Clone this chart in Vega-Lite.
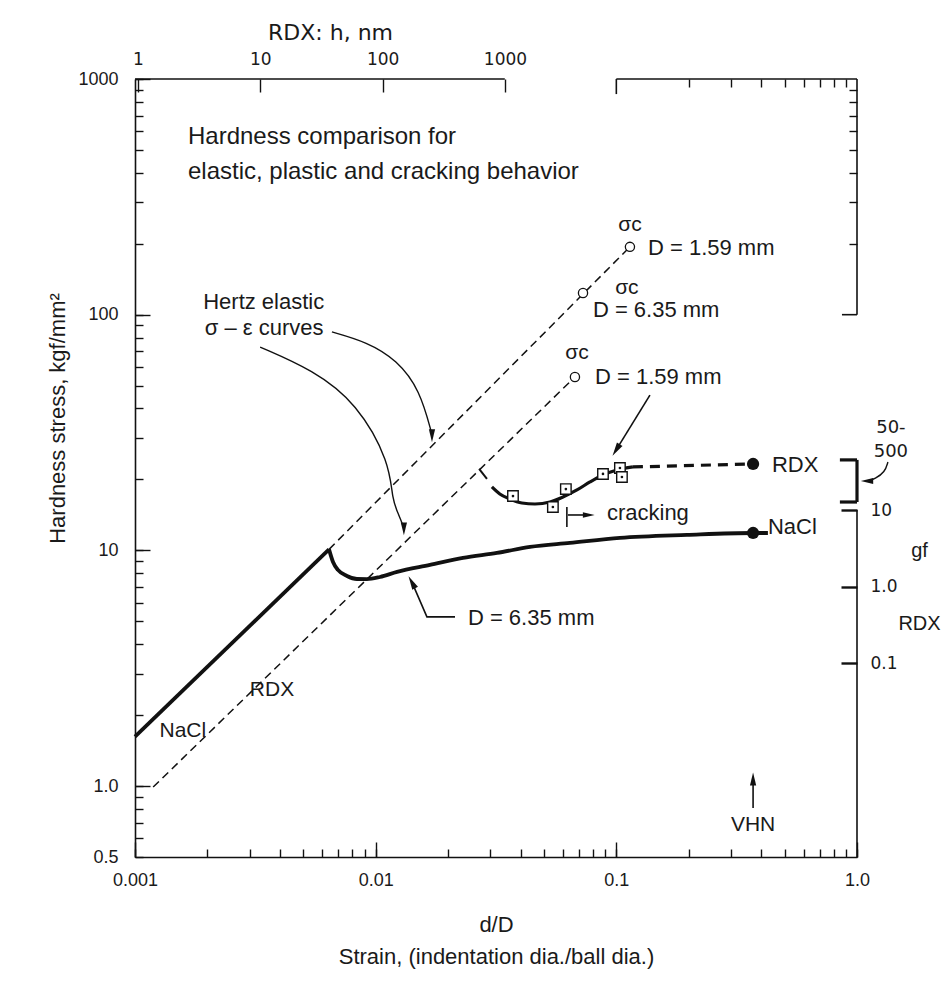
{
  "$schema": "https://vega.github.io/schema/vega-lite/v6.json",
  "width": 722,
  "height": 778,
  "autosize": {"type": "none"},
  "padding": {"left": 135, "top": 79, "right": 86, "bottom": 125},
  "background": "white",
  "config": {
    "view": {"stroke": null},
    "axis": {"grid": false, "domainColor": "#111", "tickColor": "#111", "domainWidth": 1.6, "tickWidth": 1.4, "labelColor": "#1a1a1a", "titleColor": "#1a1a1a", "labelFont": "Liberation Sans", "titleFont": "Liberation Sans", "titleFontWeight": "normal", "labelOverlap": false, "labelFlush": false}
  },
  "datasets": {
    "frame": [
      {"x": 0.001, "x2": 0.0344, "y": 1000, "y2": 1000},
      {"x": 0.1, "x2": 1, "y": 1000, "y2": 1000},
      {"x": 1, "x2": 1, "y": 1000, "y2": 100},
      {"x": 1, "x2": 1, "y": 14.84, "y2": 0.5},
      {"x": 0.1, "x2": 0.1, "y": 1000, "y2": 863},
      {"x": 0.866, "x2": 1, "y": 100, "y2": 100}
    ],
    "bracket": [
      {"x": 1, "x2": 1, "y": 24.2, "y2": 16.04},
      {"x": 0.849, "x2": 1, "y": 24.2, "y2": 24.2},
      {"x": 0.849, "x2": 1, "y": 16.04, "y2": 16.04}
    ],
    "hertz_up": [{"x": 0.0064, "y": 10.1}, {"x": 0.1139, "y": 194}],
    "hertz_lo": [{"x": 0.00119, "y": 0.99}, {"x": 0.0673, "y": 54.4}],
    "nacl_el": [{"x": 0.001, "y": 1.62}, {"x": 0.0064, "y": 10.1}],
    "nacl_cv": [
      {"x": 0.0064, "y": 10.1}, {"x": 0.00665, "y": 8.93}, {"x": 0.00697, "y": 8.26}, {"x": 0.0076, "y": 7.79},
      {"x": 0.00836, "y": 7.56}, {"x": 0.0092, "y": 7.55}, {"x": 0.01042, "y": 7.71}, {"x": 0.01227, "y": 8.1},
      {"x": 0.01681, "y": 8.67}, {"x": 0.02306, "y": 9.29}, {"x": 0.0319, "y": 9.75}, {"x": 0.0438, "y": 10.34},
      {"x": 0.0641, "y": 10.75}, {"x": 0.1035, "y": 11.29}, {"x": 0.1965, "y": 11.63}, {"x": 0.37, "y": 11.85},
      {"x": 0.4264, "y": 11.85}
    ],
    "rdx_solid": [
      {"x": 0.0304, "y": 18.6}, {"x": 0.0328, "y": 17.35}, {"x": 0.0361, "y": 16.52}, {"x": 0.0405, "y": 15.89},
      {"x": 0.0459, "y": 15.73}, {"x": 0.053, "y": 16.04}, {"x": 0.06, "y": 16.85}, {"x": 0.0686, "y": 18.04},
      {"x": 0.0777, "y": 19.51}, {"x": 0.088, "y": 20.89}, {"x": 0.1006, "y": 21.94}, {"x": 0.1172, "y": 22.59}
    ],
    "rdx_dash": [{"x": 0.1172, "y": 22.59}, {"x": 0.37, "y": 23.26}],
    "rdx_hook": [{"x": 0.0269, "y": 22.15}, {"x": 0.029, "y": 20.1}],
    "circles": [{"x": 0.1139, "y": 194}, {"x": 0.0727, "y": 123.6}, {"x": 0.0673, "y": 54.4}],
    "squares": [{"x": 0.0372, "y": 17.0}, {"x": 0.0545, "y": 15.28}, {"x": 0.0617, "y": 18.2}, {"x": 0.088, "y": 21.1}, {"x": 0.1035, "y": 22.37}, {"x": 0.1055, "y": 20.48}],
    "dots": [{"x": 0.37, "y": 23.26}, {"x": 0.37, "y": 11.85}],
    "arcs": [
      {"id": "a1", "i": 0, "x": 0.00658, "y": 84.5}, {"id": "a1", "i": 1, "x": 0.0092, "y": 76.6}, {"id": "a1", "i": 2, "x": 0.01227, "y": 64.2}, {"id": "a1", "i": 3, "x": 0.01528, "y": 47.9}, {"id": "a1", "i": 4, "x": 0.01714, "y": 31},
      {"id": "a2", "i": 0, "x": 0.00331, "y": 72.9}, {"id": "a2", "i": 1, "x": 0.00549, "y": 58.3}, {"id": "a2", "i": 2, "x": 0.00836, "y": 42.2}, {"id": "a2", "i": 3, "x": 0.01147, "y": 23.5}, {"id": "a2", "i": 4, "x": 0.01169, "y": 16.4}, {"id": "a2", "i": 5, "x": 0.0125, "y": 14.1}, {"id": "a2", "i": 6, "x": 0.0131, "y": 12.45},
      {"id": "a3", "i": 0, "x": 1.344, "y": 23.7}, {"id": "a3", "i": 1, "x": 1.307, "y": 21.5}, {"id": "a3", "i": 2, "x": 1.187, "y": 20.1}, {"id": "a3", "i": 3, "x": 1.11, "y": 19.7}
    ],
    "straight": [
      {"id": "s1", "i": 0, "x": 0.1379, "y": 45.6}, {"id": "s1", "i": 1, "x": 0.1003, "y": 26.9},
      {"id": "s2", "i": 0, "x": 0.02136, "y": 5.22}, {"id": "s2", "i": 1, "x": 0.01633, "y": 5.22}, {"id": "s2", "i": 2, "x": 0.0142, "y": 7.26},
      {"id": "s3", "i": 0, "x": 0.37, "y": 0.807}, {"id": "s3", "i": 1, "x": 0.37, "y": 1.061},
      {"id": "s4", "i": 0, "x": 0.0629, "y": 14.13}, {"id": "s4", "i": 1, "x": 0.0762, "y": 14.13},
      {"id": "s5", "i": 0, "x": 0.0623, "y": 15.28}, {"id": "s5", "i": 1, "x": 0.0623, "y": 12.57}
    ],
    "head_down": [{"x": 0.01714, "y": 30.9}, {"x": 0.0131, "y": 12.45}],
    "head_up": [{"x": 0.37, "y": 1.061}],
    "head_right": [{"x": 0.0762, "y": 14.13}],
    "head_left": [{"x": 1.11, "y": 19.7}],
    "head_a3": [{"x": 0.1003, "y": 26.9}],
    "head_s2": [{"x": 0.0142, "y": 7.26}],
    "title_txt": [
      {"x": 0.00166, "y": 567, "t": "Hardness comparison for"},
      {"x": 0.00166, "y": 403, "t": "elastic, plastic and cracking behavior"}
    ],
    "ann_left": [
      {"x": 0.00192, "y": 113, "t": "Hertz elastic"},
      {"x": 0.00195, "y": 87.8, "t": "σ – ε curves"},
      {"x": 0.1353, "y": 192, "t": "D = 1.59 mm"},
      {"x": 0.0799, "y": 104.7, "t": "D = 6.35 mm"},
      {"x": 0.0815, "y": 54.4, "t": "D = 1.59 mm"},
      {"x": 0.443, "y": 23.0, "t": "RDX"},
      {"x": 0.4264, "y": 12.57, "t": "NaCl"},
      {"x": 0.0914, "y": 14.41, "t": "cracking"},
      {"x": 0.02417, "y": 5.17, "t": "D = 6.35 mm"}
    ],
    "ann_center": [
      {"x": 0.1139, "y": 240, "t": "σc"},
      {"x": 0.1106, "y": 129.8, "t": "σc"},
      {"x": 0.0686, "y": 68.8, "t": "σc"},
      {"x": 0.00371, "y": 2.56, "t": "RDX"},
      {"x": 0.00158, "y": 1.72, "t": "NaCl"},
      {"x": 0.37, "y": 0.684, "t": "VHN"}
    ],
    "ann_bold": [
      {"x": 1.383, "y": 33.1, "t": "50-"},
      {"x": 1.383, "y": 26.2, "t": "500"}
    ]
  },
  "resolve": {"scale": {"x": "independent", "y": "independent"}, "axis": {"x": "independent", "y": "independent"}},
  "layer": [
    {
      "encoding": {
        "x": {
          "field": "x", "type": "quantitative",
          "scale": {"type": "log", "domain": [0.001, 1], "nice": false},
          "axis": {
            "orient": "bottom",
            "values": [0.001, 0.002, 0.003, 0.004, 0.005, 0.006, 0.007, 0.008, 0.009, 0.01, 0.02, 0.03, 0.04, 0.05, 0.06, 0.07, 0.08, 0.09, 0.1, 0.2, 0.3, 0.4, 0.5, 0.6, 0.7, 0.8, 0.9, 1],
            "labelExpr": "datum.value === 0.001 ? '0.001' : datum.value === 0.01 ? '0.01' : datum.value === 0.1 ? '0.1' : datum.value === 1 ? '1.0' : ''",
            "tickSize": -8, "labelPadding": 22, "labelFontSize": 18,
            "title": ["d/D", "Strain,  (indentation dia./ball dia.)"],
            "titleFontSize": 22, "titleLineHeight": 32, "titleBaseline": "top", "titleY": 57
          }
        },
        "y": {
          "field": "y", "type": "quantitative",
          "scale": {"type": "log", "domain": [0.5, 1000], "nice": false},
          "axis": {
            "orient": "left",
            "values": [0.5, 0.6, 0.7, 0.8, 0.9, 1, 2, 3, 4, 5, 6, 7, 8, 9, 10, 20, 30, 40, 50, 60, 70, 80, 90, 100, 200, 300, 400, 500, 600, 700, 800, 900, 1000],
            "labelExpr": "datum.value === 0.5 ? '0.5' : datum.value === 1 ? '1.0' : datum.value === 10 ? '10' : datum.value === 100 ? '100' : datum.value === 1000 ? '1000' : ''",
            "tickSize": -8, "labelPadding": 25, "labelFontSize": 18,
            "title": "Hardness stress, kgf/mm²",
            "titleFontSize": 22, "titleX": -78, "titleY": 339, "titleBaseline": "middle", "titleAlign": "center"
          }
        }
      },
      "layer": [
        {"data": {"name": "frame"}, "mark": {"type": "rule", "strokeWidth": 1.6, "color": "#111"}, "encoding": {"x2": {"field": "x2"}, "y2": {"field": "y2"}}},
        {"data": {"name": "bracket"}, "mark": {"type": "rule", "strokeWidth": 3.2, "color": "#111"}, "encoding": {"x2": {"field": "x2"}, "y2": {"field": "y2"}}},
        {"data": {"name": "hertz_up"}, "mark": {"type": "line", "strokeWidth": 1.5, "strokeDash": [8, 5], "color": "#111"}},
        {"data": {"name": "hertz_lo"}, "mark": {"type": "line", "strokeWidth": 1.5, "strokeDash": [8, 5], "color": "#111"}},
        {"data": {"name": "nacl_el"}, "mark": {"type": "line", "strokeWidth": 3.8, "color": "#111"}},
        {"data": {"name": "nacl_cv"}, "mark": {"type": "line", "strokeWidth": 3.8, "color": "#111", "interpolate": "monotone"}},
        {"data": {"name": "rdx_solid"}, "mark": {"type": "line", "strokeWidth": 3.2, "color": "#111", "interpolate": "monotone"}},
        {"data": {"name": "rdx_dash"}, "mark": {"type": "line", "strokeWidth": 3.2, "strokeDash": [10, 7], "color": "#111"}},
        {"data": {"name": "rdx_hook"}, "mark": {"type": "line", "strokeWidth": 2, "color": "#111"}},
        {"data": {"name": "arcs"}, "mark": {"type": "line", "strokeWidth": 1.4, "color": "#111", "interpolate": "basis"}, "encoding": {"detail": {"field": "id"}, "order": {"field": "i"}}},
        {"data": {"name": "straight"}, "mark": {"type": "line", "strokeWidth": 1.6, "color": "#111"}, "encoding": {"detail": {"field": "id"}, "order": {"field": "i"}}},
        {"data": {"name": "head_down"}, "mark": {"type": "point", "shape": "M0,-1L0.42,0.75L-0.42,0.75Z", "angle": 180, "size": 220, "filled": true, "color": "#111", "opacity": 1}},
        {"data": {"name": "head_up"}, "mark": {"type": "point", "shape": "M0,-1L0.42,0.75L-0.42,0.75Z", "angle": 0, "size": 220, "filled": true, "color": "#111", "opacity": 1}},
        {"data": {"name": "head_right"}, "mark": {"type": "point", "shape": "M0,-1L0.42,0.75L-0.42,0.75Z", "angle": 90, "size": 180, "filled": true, "color": "#111", "opacity": 1}},
        {"data": {"name": "head_left"}, "mark": {"type": "point", "shape": "M0,-1L0.42,0.75L-0.42,0.75Z", "angle": 270, "size": 200, "filled": true, "color": "#111", "opacity": 1}},
        {"data": {"name": "head_a3"}, "mark": {"type": "point", "shape": "M0,-1L0.42,0.75L-0.42,0.75Z", "angle": 212, "size": 240, "filled": true, "color": "#111", "opacity": 1}},
        {"data": {"name": "head_s2"}, "mark": {"type": "point", "shape": "M0,-1L0.42,0.75L-0.42,0.75Z", "angle": 331, "size": 240, "filled": true, "color": "#111", "opacity": 1}},
        {"data": {"name": "circles"}, "mark": {"type": "point", "shape": "circle", "size": 85, "fill": "white", "stroke": "#111", "strokeWidth": 1.3, "opacity": 1}},
        {"data": {"name": "squares"}, "mark": {"type": "point", "shape": "square", "size": 110, "fill": "white", "stroke": "#111", "strokeWidth": 1.4, "opacity": 1}},
        {"data": {"name": "squares"}, "mark": {"type": "point", "shape": "circle", "size": 7, "filled": true, "color": "#111", "opacity": 1}},
        {"data": {"name": "dots"}, "mark": {"type": "point", "shape": "circle", "size": 150, "filled": true, "color": "#111", "opacity": 1}},
        {"data": {"name": "title_txt"}, "mark": {"type": "text", "align": "left", "baseline": "middle", "font": "Liberation Sans", "fontSize": 24, "color": "#1a1a1a"}, "encoding": {"text": {"field": "t"}}},
        {"data": {"name": "ann_left"}, "mark": {"type": "text", "align": "left", "baseline": "middle", "font": "Liberation Sans", "fontSize": 22, "color": "#1a1a1a"}, "encoding": {"text": {"field": "t"}}},
        {"data": {"name": "ann_center"}, "mark": {"type": "text", "align": "center", "baseline": "middle", "font": "Liberation Sans", "fontSize": 21, "color": "#1a1a1a"}, "encoding": {"text": {"field": "t"}}},
        {"data": {"name": "ann_bold"}, "mark": {"type": "text", "align": "center", "baseline": "middle", "font": "DejaVu Sans", "fontSize": 18, "color": "#1a1a1a"}, "encoding": {"text": {"field": "t"}}}
      ]
    },
    {
      "data": {"values": [{"x": 0.01, "y": 10}]},
      "mark": {"type": "point", "opacity": 0},
      "encoding": {
        "x": {"field": "x", "type": "quantitative", "scale": {"type": "log", "domain": [0.001, 1], "nice": false},
              "axis": {"orient": "bottom", "values": [0.001, 0.01, 0.1, 1], "tickSize": -15, "labels": false, "domain": false, "title": null}},
        "y": {"field": "y", "type": "quantitative", "scale": {"type": "log", "domain": [0.5, 1000], "nice": false},
              "axis": {"orient": "left", "values": [1, 10, 100, 1000], "tickSize": -15, "labels": false, "domain": false, "title": null}}
      }
    },
    {
      "data": {"values": [{"x": 0.01, "y": 10}]},
      "mark": {"type": "point", "opacity": 0},
      "encoding": {
        "x": {"field": "x", "type": "quantitative", "scale": {"type": "log", "domain": [0.001, 1], "nice": false},
              "axis": {"orient": "top", "values": [0.2, 0.3, 0.4, 0.5, 0.6, 0.7, 0.8, 0.9], "tickSize": -8, "labels": false, "domain": false, "title": null}},
        "y": {"field": "y", "type": "quantitative", "scale": {"type": "log", "domain": [0.5, 1000], "nice": false},
              "axis": {"orient": "right", "values": [200, 300, 400, 500, 600, 700, 800, 900], "tickSize": -8, "labels": false, "domain": false, "title": null}}
      }
    },
    {
      "data": {"values": [{"h": 1}, {"h": 1000}]},
      "mark": {"type": "point", "opacity": 0},
      "encoding": {
        "x": {"field": "h", "type": "quantitative", "scale": {"type": "log", "domain": [0.945, 755000], "nice": false},
              "axis": {"orient": "top", "values": [1, 10, 100, 1000], "labelExpr": "'' + datum.value", "tickSize": -13, "labelPadding": 24, "domain": false,
                       "labelFont": "DejaVu Sans", "labelFontSize": 17,
                       "title": "RDX: h, nm", "titleFont": "DejaVu Sans", "titleFontSize": 22, "titleX": 195, "titleY": -47, "titleAlign": "center", "titleBaseline": "middle", "titleAngle": 0}}
      }
    },
    {
      "data": {"values": [{"gf": 0.1}, {"gf": 10}]},
      "mark": {"type": "point", "opacity": 0},
      "encoding": {
        "y": {"field": "gf", "type": "quantitative", "scale": {"type": "log", "domain": [0.000291, 4310000], "nice": false},
              "axis": {"orient": "right", "values": [0.1, 1, 10], "labelExpr": "datum.value === 1 ? '1.0' : datum.value === 10 ? '10' : '0.1'", "tickSize": -16, "tickWidth": 2.4, "labelPadding": 29, "domain": false,
                       "labelFont": "DejaVu Sans", "labelFontSize": 17,
                       "title": ["gf", "RDX"], "titleFontSize": 20, "titleLineHeight": 73, "titleX": 62, "titleY": 471, "titleAlign": "center", "titleBaseline": "middle", "titleAngle": 0}}
      }
    }
  ]
}
